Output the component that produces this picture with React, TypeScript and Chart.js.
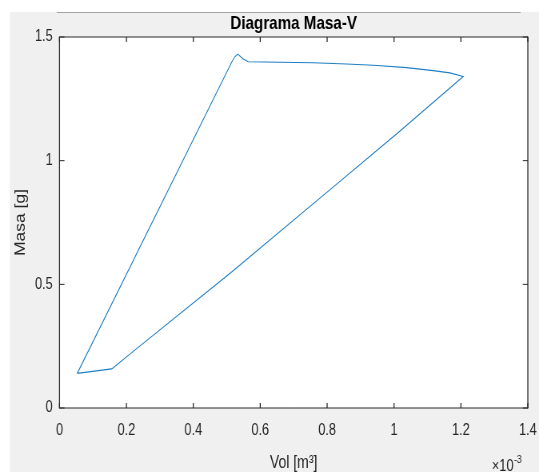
import React, { useEffect, useRef } from "react";
import { Chart, registerables } from "chart.js";

Chart.register(...registerables);

// Closed cycle: volume in units of 1e-3 m³, mass in grams
const volumen = [
  0.053, 0.515, 0.524, 0.533, 0.548, 0.564, 0.758, 0.858, 0.938, 1.038, 1.117,
  1.167, 1.207, 1.018, 0.808, 0.51, 0.226, 0.156, 0.053,
];
const masa = [
  0.14, 1.399, 1.42, 1.431, 1.412, 1.4, 1.396, 1.391, 1.386, 1.376, 1.364,
  1.355, 1.34, 1.12, 0.882, 0.545, 0.235, 0.158, 0.14,
];

const xTicks = [0, 0.2, 0.4, 0.6, 0.8, 1, 1.2, 1.4];
const yTicks = [0, 0.5, 1, 1.5];

const titulo = "Diagrama Masa-V";
const etiquetaX = "Vol [m³]";
const etiquetaY = "Masa [g]";
const exponenteX = "-3";

// Drawing surface is wider than its on-page box, giving the narrow MATLAB-like glyphs
const W = 674;
const H = 472;
const CSS_W = 539;
const FONT = '"Liberation Sans", Arial, Helvetica, sans-serif';
const AXIS_COLOR = "#262626";

const fmt = (v: number) => String(Math.round(v * 10) / 10);

const matlabFrame = {
  id: "matlabFrame",
  beforeDraw(chart: any) {
    const { ctx, width, height, chartArea: a } = chart;
    ctx.save();
    ctx.fillStyle = "#ffffff";
    ctx.fillRect(0, 0, width, height);
    ctx.fillStyle = "#f0f0f0";
    ctx.fillRect(12.5, 12, width - 12.5, height - 12);
    ctx.strokeStyle = "#a3a3a3";
    ctx.lineWidth = 1;
    ctx.beginPath();
    ctx.moveTo(71, 12.5);
    ctx.lineTo(651, 12.5);
    ctx.stroke();
    ctx.fillStyle = "#ffffff";
    ctx.fillRect(a.left, a.top, a.right - a.left, a.bottom - a.top);
    ctx.restore();
  },
  afterDatasetsDraw(chart: any) {
    const { ctx, chartArea: a, scales } = chart;
    const xs = scales.x;
    const ys = scales.y;
    ctx.save();
    ctx.strokeStyle = AXIS_COLOR;
    // horizontal edges
    ctx.lineWidth = 1;
    ctx.beginPath();
    ctx.moveTo(a.left, a.top);
    ctx.lineTo(a.right, a.top);
    ctx.moveTo(a.left, a.bottom);
    ctx.lineTo(a.right, a.bottom);
    ctx.stroke();
    // vertical edges
    ctx.lineWidth = 1.25;
    ctx.beginPath();
    ctx.moveTo(a.left, a.top - 0.5);
    ctx.lineTo(a.left, a.bottom + 0.5);
    ctx.moveTo(a.right, a.top - 0.5);
    ctx.lineTo(a.right, a.bottom + 0.5);
    ctx.stroke();
    // inward tick marks on all four sides
    const tx = 5;
    const ty = 6.25;
    ctx.lineWidth = 1.25;
    ctx.beginPath();
    for (const t of xs.ticks) {
      const p = xs.getPixelForValue(t.value);
      ctx.moveTo(p, a.bottom);
      ctx.lineTo(p, a.bottom - tx);
      ctx.moveTo(p, a.top);
      ctx.lineTo(p, a.top + tx);
    }
    ctx.stroke();
    ctx.lineWidth = 1;
    ctx.beginPath();
    for (const t of ys.ticks) {
      const p = ys.getPixelForValue(t.value);
      ctx.moveTo(a.left, p);
      ctx.lineTo(a.left + ty, p);
      ctx.moveTo(a.right, p);
      ctx.lineTo(a.right - ty, p);
    }
    ctx.stroke();
    ctx.restore();
  },
  afterDraw(chart: any) {
    const { ctx, chartArea: a } = chart;
    ctx.save();
    ctx.fillStyle = "#000000";
    ctx.font = `bold 19px ${FONT}`;
    ctx.textAlign = "center";
    ctx.textBaseline = "alphabetic";
    ctx.fillText(titulo, (a.left + a.right) / 2, 28.5);

    ctx.fillStyle = AXIS_COLOR;
    ctx.textAlign = "left";
    ctx.font = `16px ${FONT}`;
    const x0 = 615;
    ctx.fillText("×10", x0, 470.5);
    const w = ctx.measureText("×10").width;
    ctx.font = `11px ${FONT}`;
    ctx.fillText(exponenteX, x0 + w + 0.5, 463);
    ctx.restore();
  },
};

export default function App() {
  const canvasRef = useRef<HTMLCanvasElement | null>(null);

  useEffect(() => {
    const canvas = canvasRef.current;
    if (!canvas) return;
    const puntos = volumen.map((v, i) => ({ x: v, y: masa[i] }));
    const chart = new Chart(canvas, {
      type: "scatter",
      data: {
        datasets: [
          {
            data: puntos,
            showLine: true,
            borderColor: "#1f7fc4",
            backgroundColor: "#1f7fc4",
            borderWidth: 1.1,
            pointRadius: 0,
            tension: 0,
            fill: false,
          },
        ],
      },
      options: {
        animation: false,
        responsive: false,
        devicePixelRatio: 1,
        events: [],
        layout: { padding: { top: 37, right: 14, bottom: 0, left: 0 } },
        plugins: {
          legend: { display: false },
          tooltip: { enabled: false },
          title: { display: false },
        },
        scales: {
          x: {
            type: "linear",
            position: "bottom",
            min: 0,
            max: 1.4,
            grid: { display: false, drawTicks: false },
            border: { display: false },
            afterBuildTicks: (s: any) => {
              s.ticks = xTicks.map((v) => ({ value: v }));
            },
            afterFit: (s: any) => {
              s.height = 64;
              s.paddingLeft = 0;
              s.paddingRight = 0;
            },
            ticks: {
              autoSkip: false,
              maxRotation: 0,
              padding: 13.4,
              color: AXIS_COLOR,
              font: { family: FONT, size: 16 },
              callback: (v: any) => fmt(Number(v)),
            },
            title: {
              display: true,
              text: etiquetaX,
              color: AXIS_COLOR,
              font: { family: FONT, size: 17.5, lineHeight: 1 },
              padding: 0,
            },
          },
          y: {
            type: "linear",
            position: "left",
            min: 0,
            max: 1.5,
            grid: { display: false, drawTicks: false },
            border: { display: false },
            afterBuildTicks: (s: any) => {
              s.ticks = yTicks.map((v) => ({ value: v }));
            },
            afterFit: (s: any) => {
              s.width = 74.4;
            },
            ticks: {
              autoSkip: false,
              padding: 8.5,
              color: AXIS_COLOR,
              font: { family: FONT, size: 16 },
              callback: (v: any) => fmt(Number(v)),
            },
            title: {
              display: true,
              text: etiquetaY,
              color: AXIS_COLOR,
              font: { family: FONT, size: 17.5, lineHeight: 1.2 },
              padding: { top: 15.3, bottom: 0 },
            },
          },
        },
      },
      plugins: [matlabFrame],
    });
    return () => chart.destroy();
  }, []);

  return (
    <div style={{ position: "fixed", left: 0, top: 0, width: CSS_W, height: H }}>
      <canvas
        ref={canvasRef}
        width={W}
        height={H}
        style={{ display: "block", width: `${CSS_W}px`, height: `${H}px` }}
      />
    </div>
  );
}
